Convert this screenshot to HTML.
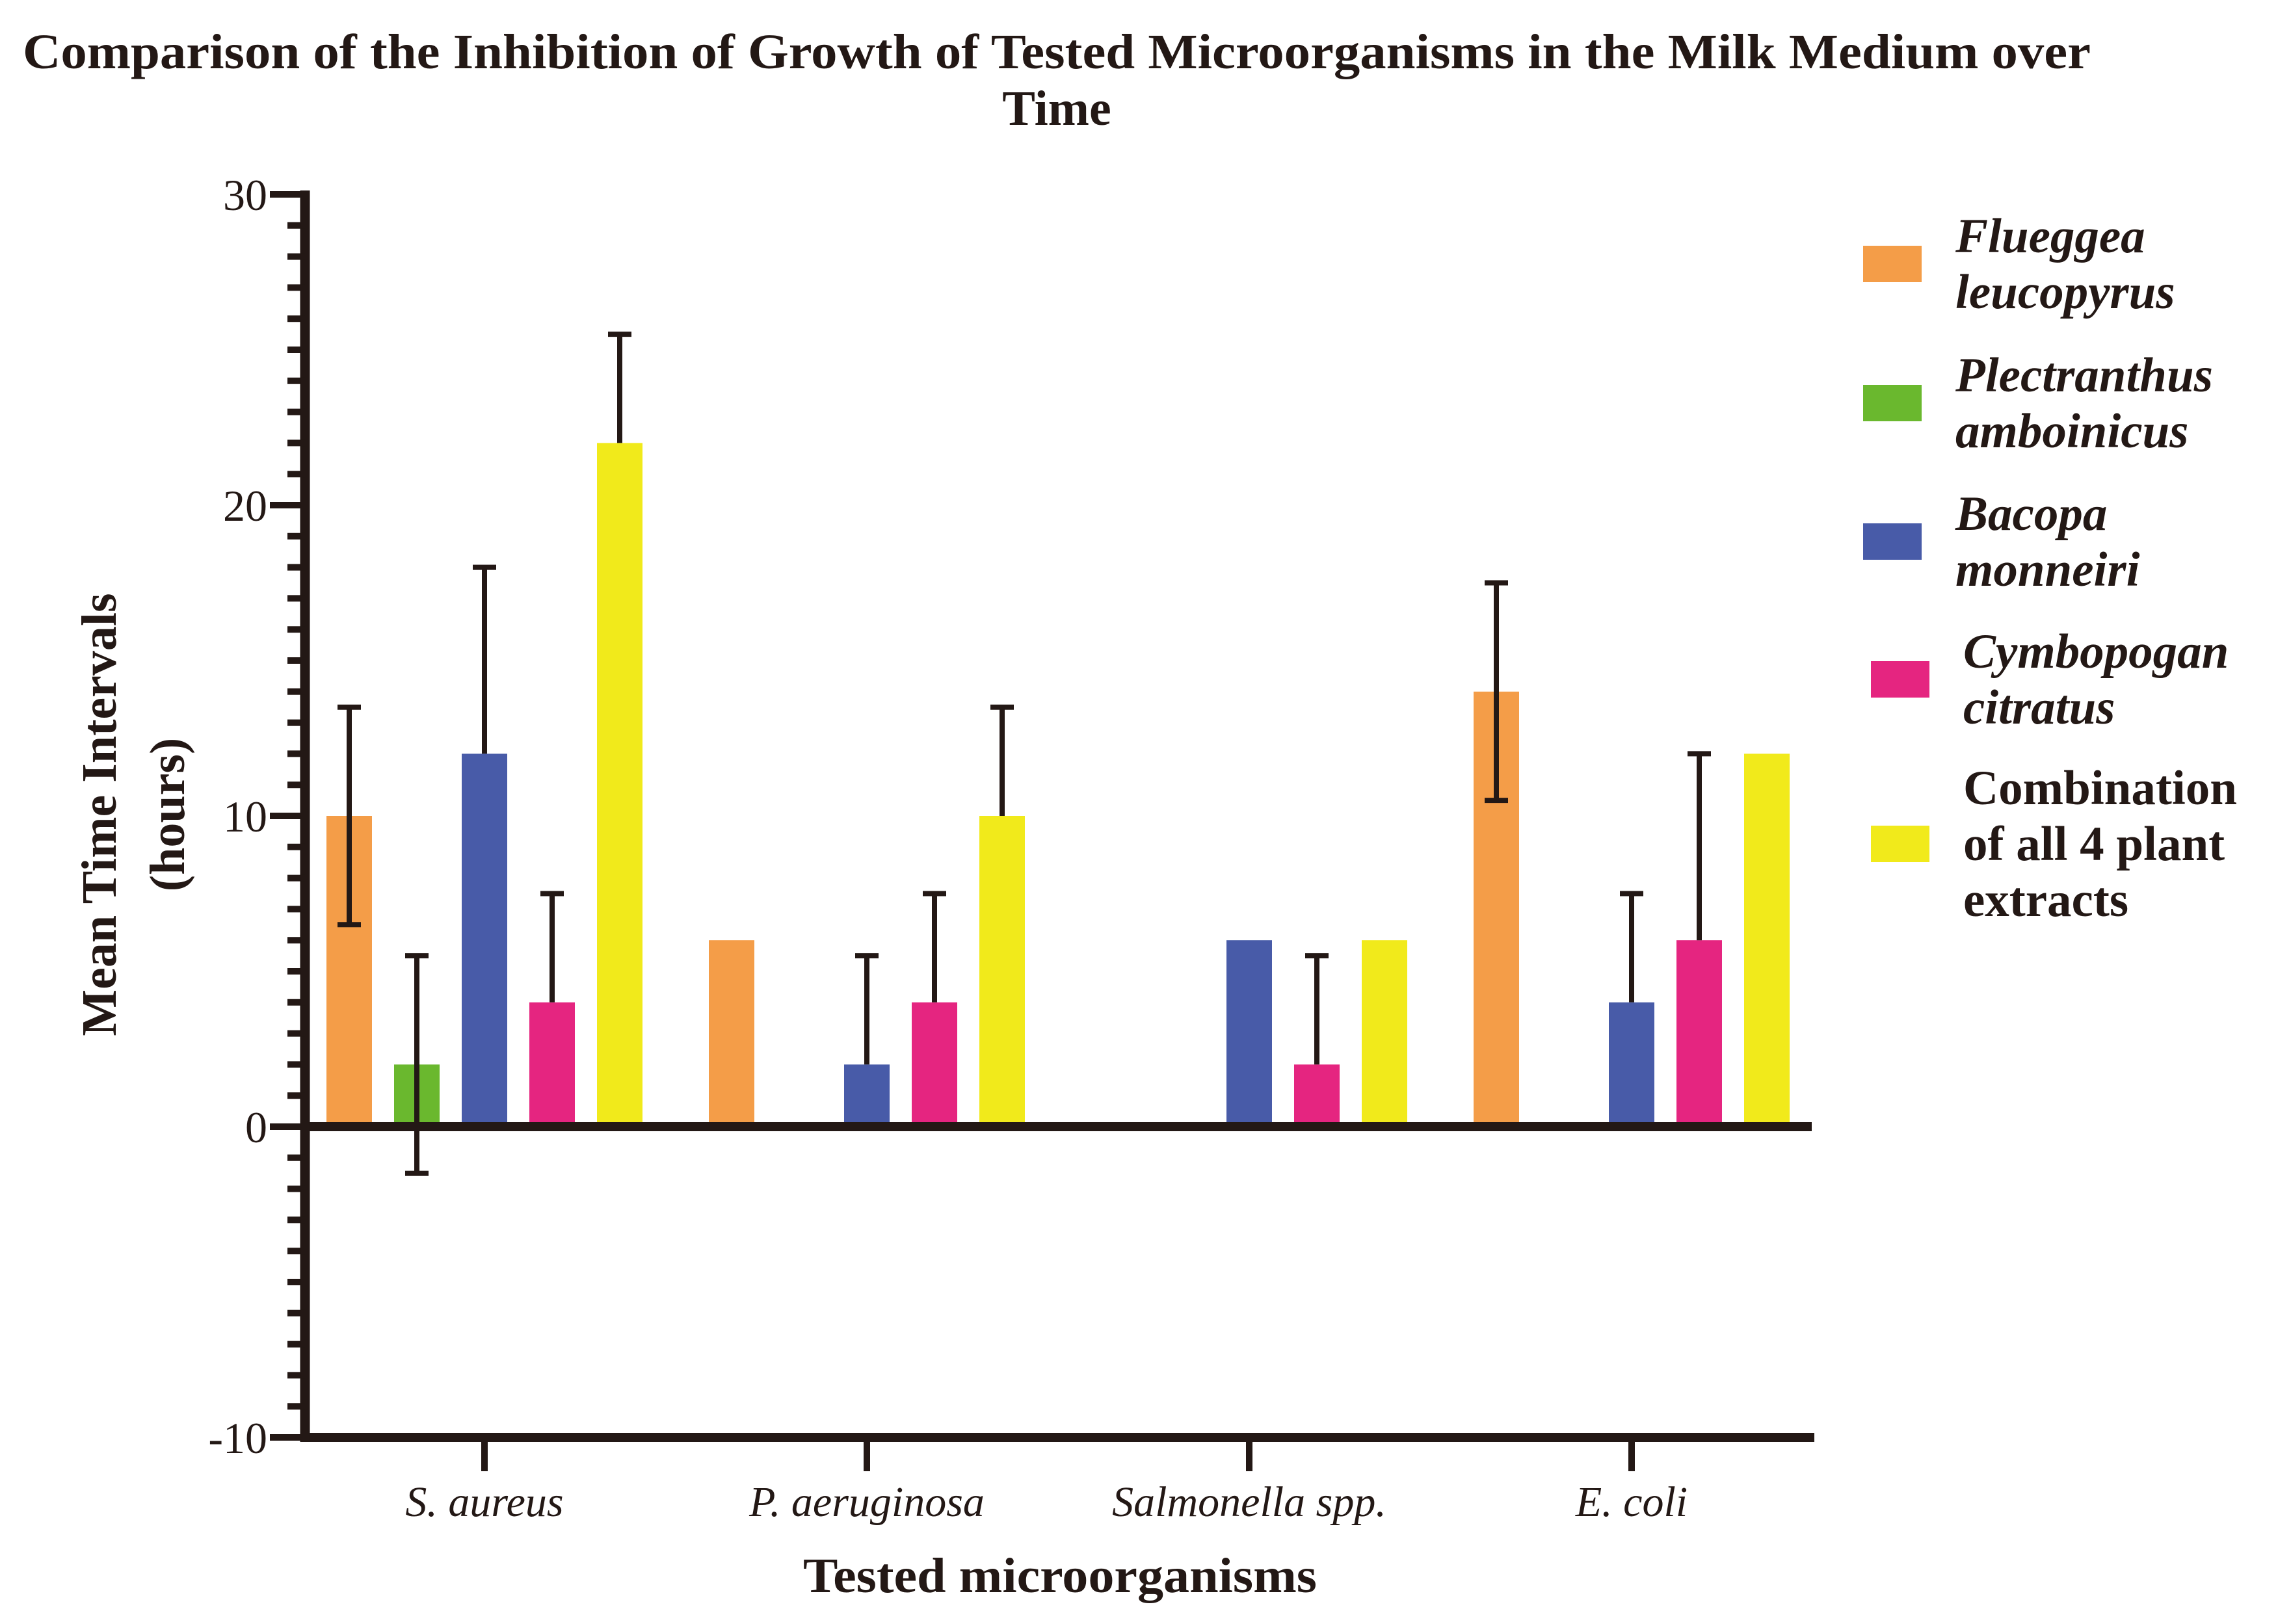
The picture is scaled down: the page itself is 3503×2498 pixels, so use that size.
<!DOCTYPE html>
<html><head><meta charset="utf-8"><style>
html,body{margin:0;padding:0;background:#fff;}
svg{display:block;}
text{fill:#231815;}
</style></head><body>
<svg id="chart" width="3503" height="2498" viewBox="0 0 3503 2498" xmlns="http://www.w3.org/2000/svg">
<text x="1625" y="105" text-anchor="middle" font-family="Liberation Serif, serif" font-weight="bold" font-size="76" textLength="3180" lengthAdjust="spacingAndGlyphs">Comparison of the Inhibition of Growth of Tested Microorganisms in the Milk Medium over</text>
<text x="1625" y="192" text-anchor="middle" font-family="Liberation Serif, serif" font-weight="bold" font-size="76">Time</text>
<g id="plot"></g>
<text x="1630" y="2449" text-anchor="middle" font-family="Liberation Serif, serif" font-weight="bold" font-size="76" textLength="790" lengthAdjust="spacingAndGlyphs">Tested microorganisms</text>
<g font-family="Liberation Serif, serif" font-weight="bold" font-size="76" text-anchor="middle">
<text x="0" y="0" transform="translate(178,1253) rotate(-90)">Mean Time Intervals</text>
<text x="0" y="0" transform="translate(283,1253) rotate(-90)">(hours)</text>
</g>
<g id="legend"></g>
</svg>
<script>
const categories = ["S. aureus", "P. aeruginosa", "Salmonella spp.", "E. coli"];
const seriesNames = [["Flueggea","leucopyrus"],["Plectranthus","amboinicus"],["Bacopa","monneiri"],["Cymbopogan","citratus"],["Combination","of all 4 plant","extracts"]];
const flueggea = [10, 6, 0, 14];
const plectranthus = [2, 0, 0, 0];
const bacopa = [12, 2, 6, 4];
const cymbopogan = [4, 4, 2, 6];
const combination = [22, 10, 6, 12];
const errFlueggea = [3.5, 0, 0, 3.5];
const errPlectranthus = [3.5, 0, 0, 0];
const errBacopa = [6, 3.5, 0, 3.5];
const errCymbopogan = [3.5, 3.5, 3.5, 6];
const errCombination = [3.5, 3.5, 0, 0];
const errBothFlueggea = [true, false, false, true];
const errBothPlectranthus = [true, false, false, false];
const yTicks = [30, 20, 10, 0, -10];

const NS = "http://www.w3.org/2000/svg";
const series = [flueggea, plectranthus, bacopa, cymbopogan, combination];
const errs = [errFlueggea, errPlectranthus, errBacopa, errCymbopogan, errCombination];
const both = [errBothFlueggea, errBothPlectranthus, [false,false,false,false], [false,false,false,false], [false,false,false,false]];
const colors = ["#F49D48", "#6AB82E", "#485BA8", "#E52580", "#F1EA1B"];
const dark = "#231815";
const axX = 469, axRight = 2786, y0px = 1733, pxPerUnit = 47.8;
function yS(v){ return y0px - v * pxPerUnit; }
function catX(i){ return 745 + i * 588; }
function barX(i, s){ return catX(i) + (s - 2) * 104; }
const plot = document.getElementById('plot');
function mk(tag, attrs, parent){ const e = document.createElementNS(NS, tag); for (const k in attrs) e.setAttribute(k, attrs[k]); (parent||plot).appendChild(e); return e; }

const bw = 70;
series.forEach((arr, s) => {
  arr.forEach((v, i) => {
    if (v === 0) return;
    const r = mk('rect', {x: barX(i,s) - bw/2, y: Math.min(yS(v), y0px), width: bw, height: Math.abs(yS(v) - y0px), fill: colors[s]});
    
    
  });
});
series.forEach((arr, s) => {
  arr.forEach((v, i) => {
    const e = errs[s][i];
    if (!e) return;
    const cx = barX(i,s);
    const top = yS(v + e), bot = both[s][i] ? yS(v - e) : yS(v);
    const g = mk('g', {stroke: dark, 'stroke-width': 8});
    
    
    mk('line', {x1: cx, x2: cx, y1: top, y2: bot}, g);
    mk('line', {x1: cx - 18, x2: cx + 18, y1: top, y2: top}, g);
    if (both[s][i]) mk('line', {x1: cx - 18, x2: cx + 18, y1: bot, y2: bot}, g);
  });
});
const ax = mk('g', {stroke: dark});


mk('line', {x1: axX, x2: axX, y1: yS(30) - 6, y2: yS(-10) + 7, 'stroke-width': 15}, ax);
mk('line', {x1: axX - 7, x2: axRight, y1: y0px, y2: y0px, 'stroke-width': 14}, ax);
mk('line', {x1: axX - 7, x2: axRight + 4, y1: yS(-10), y2: yS(-10), 'stroke-width': 14}, ax);
for (let v = -10; v <= 30; v++) {
  const major = v % 10 === 0;
  mk('line', {x1: major ? 415 : 442, x2: axX, y1: yS(v), y2: yS(v), 'stroke-width': 10}, ax);
}
categories.forEach((c, i) => {
  mk('line', {x1: catX(i), x2: catX(i), y1: yS(-10), y2: yS(-10) + 52, 'stroke-width': 10}, ax);
  const t = mk('text', {x: catX(i), y: 2332, 'text-anchor': 'middle', 'font-family': 'Liberation Serif, serif', 'font-style': 'italic', 'font-size': 66});
  t.textContent = c;
  
  
});
yTicks.forEach(v => {
  const t = mk('text', {x: 411, y: yS(v) + 24, 'text-anchor': 'end', 'font-family': 'Liberation Serif, serif', 'font-size': 68});
  t.textContent = String(v);
  
  
});
const leg = document.getElementById('legend');
const swY = [406, 620, 833, 1045, 1298];
const swX = [2865, 2865, 2865, 2877, 2877];
const txX = [3007, 3007, 3007, 3019, 3019];
seriesNames.forEach((lines, s) => {
  const g = mk('g', {}, leg);
  
  
  mk('rect', {x: swX[s], y: swY[s] - 28, width: 90, height: 56, fill: colors[s]}, g);
  const n = lines.length;
  const gap = 86;
  lines.forEach((ln, k) => {
    const t = mk('text', {x: txX[s], y: swY[s] - (n - 1) * gap / 2 + k * gap + 25, 'font-family': 'Liberation Serif, serif', 'font-weight': 'bold', 'font-style': s < 4 ? 'italic' : 'normal', 'font-size': 75}, g);
    t.textContent = ln;
  });
});
</script>
</body></html>
